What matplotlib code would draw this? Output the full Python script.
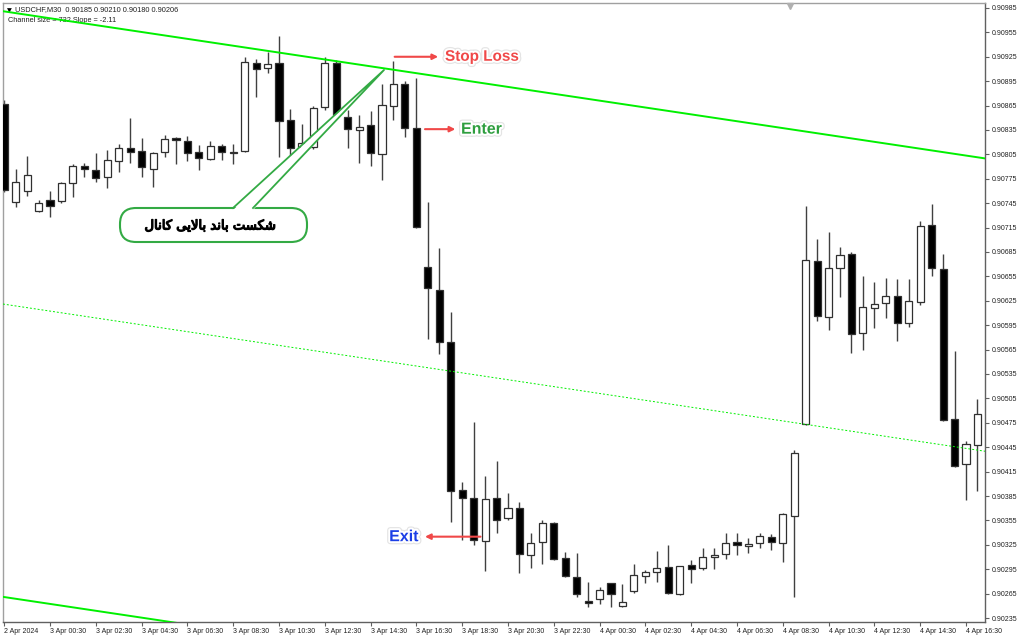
import matplotlib
matplotlib.use("Agg")
import matplotlib.pyplot as plt
import matplotlib.transforms as mtransforms
import matplotlib.patheffects as pe
from matplotlib.patches import FancyBboxPatch, Polygon
import numpy as np

# USDCHF M30, bars from 2 Apr 22:30 to 4 Apr 17:00
opens = [0.90867, 0.90747, 0.90760, 0.90735, 0.90749, 0.90748, 0.90770, 0.90791, 0.90786, 0.90777,
         0.90797, 0.90813, 0.90809, 0.90787, 0.90808, 0.90825, 0.90821, 0.90808, 0.90799, 0.90815,
         0.90808, 0.90809, 0.90917, 0.90911, 0.90917, 0.90847, 0.90814, 0.90814, 0.90863, 0.90917,
         0.90851, 0.90835, 0.90841, 0.90805, 0.90864, 0.90892, 0.90837, 0.90667, 0.90638, 0.90574,
         0.90392, 0.90383, 0.90330, 0.90383, 0.90358, 0.90370, 0.90312, 0.90328, 0.90352, 0.90309,
         0.90285, 0.90256, 0.90258, 0.90278, 0.90250, 0.90268, 0.90287, 0.90292, 0.90298, 0.90265,
         0.90300, 0.90296, 0.90310, 0.90314, 0.90328, 0.90323, 0.90327, 0.90335, 0.90327, 0.90360,
         0.90474, 0.90674, 0.90605, 0.90665, 0.90683, 0.90585, 0.90616, 0.90622, 0.90631, 0.90598,
         0.90624, 0.90718, 0.90664, 0.90480, 0.90424, 0.90448]
highs = [0.90872, 0.90787, 0.90803, 0.90749, 0.90760, 0.90771, 0.90793, 0.90794, 0.90807, 0.90810,
         0.90818, 0.90850, 0.90825, 0.90808, 0.90829, 0.90826, 0.90828, 0.90817, 0.90821, 0.90818,
         0.90818, 0.90925, 0.90922, 0.90931, 0.90951, 0.90861, 0.90842, 0.90864, 0.90925, 0.90921,
         0.90860, 0.90853, 0.90858, 0.90892, 0.90920, 0.90895, 0.90899, 0.90747, 0.90690, 0.90611,
         0.90402, 0.90476, 0.90410, 0.90428, 0.90389, 0.90378, 0.90340, 0.90355, 0.90353, 0.90316,
         0.90315, 0.90279, 0.90273, 0.90278, 0.90277, 0.90301, 0.90294, 0.90317, 0.90325, 0.90299,
         0.90306, 0.90321, 0.90321, 0.90340, 0.90340, 0.90333, 0.90340, 0.90338, 0.90364, 0.90442,
         0.90742, 0.90701, 0.90710, 0.90691, 0.90685, 0.90656, 0.90648, 0.90653, 0.90652, 0.90652,
         0.90723, 0.90744, 0.90683, 0.90563, 0.90453, 0.90504]
lows = [0.90759, 0.90740, 0.90754, 0.90734, 0.90728, 0.90745, 0.90753, 0.90777, 0.90771, 0.90764,
        0.90783, 0.90794, 0.90777, 0.90765, 0.90802, 0.90793, 0.90797, 0.90786, 0.90798, 0.90798,
        0.90793, 0.90808, 0.90876, 0.90905, 0.90802, 0.90804, 0.90807, 0.90812, 0.90860, 0.90851,
        0.90813, 0.90794, 0.90791, 0.90774, 0.90847, 0.90826, 0.90715, 0.90578, 0.90560, 0.90353,
        0.90331, 0.90325, 0.90293, 0.90340, 0.90355, 0.90290, 0.90296, 0.90301, 0.90306, 0.90285,
        0.90261, 0.90249, 0.90252, 0.90249, 0.90249, 0.90266, 0.90278, 0.90279, 0.90265, 0.90263,
        0.90278, 0.90294, 0.90295, 0.90308, 0.90312, 0.90315, 0.90321, 0.90319, 0.90304, 0.90261,
        0.90472, 0.90600, 0.90589, 0.90630, 0.90561, 0.90565, 0.90592, 0.90604, 0.90576, 0.90593,
        0.90620, 0.90656, 0.90477, 0.90421, 0.90380, 0.90391]
closes = [0.90761, 0.90771, 0.90780, 0.90745, 0.90742, 0.90770, 0.90791, 0.90787, 0.90776, 0.90798,
          0.90813, 0.90808, 0.90789, 0.90807, 0.90824, 0.90823, 0.90807, 0.90801, 0.90815, 0.90808,
          0.90807, 0.90919, 0.90910, 0.90916, 0.90846, 0.90813, 0.90819, 0.90862, 0.90917, 0.90853,
          0.90836, 0.90839, 0.90807, 0.90866, 0.90892, 0.90837, 0.90716, 0.90641, 0.90574, 0.90391,
          0.90383, 0.90331, 0.90381, 0.90355, 0.90370, 0.90314, 0.90327, 0.90352, 0.90308, 0.90287,
          0.90265, 0.90253, 0.90269, 0.90265, 0.90255, 0.90288, 0.90292, 0.90296, 0.90266, 0.90299,
          0.90295, 0.90310, 0.90312, 0.90327, 0.90325, 0.90326, 0.90336, 0.90328, 0.90363, 0.90438,
          0.90675, 0.90606, 0.90665, 0.90681, 0.90584, 0.90617, 0.90621, 0.90631, 0.90598, 0.90625,
          0.90717, 0.90665, 0.90478, 0.90422, 0.90449, 0.90486]

x_tick_labels = ["2 Apr 2024", "3 Apr 00:30", "3 Apr 02:30", "3 Apr 04:30", "3 Apr 06:30",
                 "3 Apr 08:30", "3 Apr 10:30", "3 Apr 12:30", "3 Apr 14:30", "3 Apr 16:30",
                 "3 Apr 18:30", "3 Apr 20:30", "3 Apr 22:30", "4 Apr 00:30", "4 Apr 02:30",
                 "4 Apr 04:30", "4 Apr 06:30", "4 Apr 08:30", "4 Apr 10:30", "4 Apr 12:30",
                 "4 Apr 14:30", "4 Apr 16:30"]
y_tick_labels = ["0.90985", "0.90955", "0.90925", "0.90895", "0.90865", "0.90835", "0.90805",
                 "0.90775", "0.90745", "0.90715", "0.90685", "0.90655", "0.90625", "0.90595",
                 "0.90565", "0.90535", "0.90505", "0.90475", "0.90445", "0.90415", "0.90385",
                 "0.90355", "0.90325", "0.90295", "0.90265", "0.90235"]

# regression channel (from the indicator)
chan_top_start = 0.90981
chan_slope = -0.0000211      # per bar
chan_width = 0.00720

header = "USDCHF,M30  0.90185 0.90210 0.90180 0.90206"
chan_label = "Channel size = 732 Slope = -2.11"
callout_text = "شکست باند بالایی کانال"

stop_price = 0.90925
enter_price = 0.90836
exit_price = 0.90335


# --- tiny persian shaper (matplotlib has no arabic shaping) ---
FORMS = {
    'ش': ('\uFEB5', '\uFEB6', '\uFEB7', '\uFEB8'),
    'س': ('\uFEB1', '\uFEB2', '\uFEB3', '\uFEB4'),
    'ت': ('\uFE95', '\uFE96', '\uFE97', '\uFE98'),
    'ب': ('\uFE8F', '\uFE90', '\uFE91', '\uFE92'),
    'ن': ('\uFEE5', '\uFEE6', '\uFEE7', '\uFEE8'),
    'ل': ('\uFEDD', '\uFEDE', '\uFEDF', '\uFEE0'),
    'ک': ('\uFB8E', '\uFB8F', '\uFB90', '\uFB91'),
    'ی': ('\uFBFC', '\uFBFD', '\uFBFE', '\uFBFF'),
    'ا': ('\uFE8D', '\uFE8E', None, None),
    'د': ('\uFEA9', '\uFEAA', None, None),
}

def shape_fa(s):
    units = []
    i = 0
    while i < len(s):
        if s[i] == 'ل' and i + 1 < len(s) and s[i + 1] == 'ا':
            units.append('LA')
            i += 2
        else:
            units.append(s[i])
            i += 1
    dual = lambda u: u in FORMS and FORMS[u][2] is not None
    joinable = lambda u: u in FORMS or u == 'LA'
    res = []
    for k, u in enumerate(units):
        prev = units[k - 1] if k > 0 else None
        nxt = units[k + 1] if k + 1 < len(units) else None
        jp = prev is not None and dual(prev) and joinable(u)
        jn = dual(u) and nxt is not None and joinable(nxt)
        if u == 'LA':
            res.append('\uFEFC' if jp else '\uFEFB')
        elif u in FORMS:
            iso, fin, ini, med = FORMS[u]
            if jp and jn:
                res.append(med)
            elif jp:
                res.append(fin)
            elif jn:
                res.append(ini)
            else:
                res.append(iso)
        else:
            res.append(u)
    return ''.join(reversed(res))


W, H = 1024, 639
fig = plt.figure(figsize=(W / 100, H / 100), dpi=100)
ax = fig.add_axes([3 / W, 1 - 622 / H, 982 / W, 619 / H])
ax.set_facecolor('white')

o = np.array(opens); h = np.array(highs); l = np.array(lows); c = np.array(closes)
idx = np.arange(len(o))
up = c >= o

ax.vlines(idx, l, h, color='#404040', lw=1.0, zorder=2)
body_lo = np.minimum(o, c)
body_h = np.abs(c - o)
ax.bar(idx[up], body_h[up], bottom=body_lo[up], width=0.62, color='white',
       edgecolor='#303030', lw=0.9, zorder=3)
ax.bar(idx[~up], body_h[~up], bottom=body_lo[~up], width=0.62, color='black',
       edgecolor='#303030', lw=0.9, zorder=3)

xl = (-0.105, 85.66)
xs = np.array(xl)
top_line = chan_top_start + chan_slope * (xs - xl[0])
ax.plot(xs, top_line, color='#00f000', lw=1.4, zorder=4)
ax.plot(xs, top_line - chan_width, color='#00f000', lw=1.4, zorder=4)
ax.plot(xs, top_line - chan_width / 2, color='#00f000', lw=0.7, ls=(0, (2, 2)), zorder=4)

ax.set_xlim(*xl)
ax.set_ylim(0.902301, 0.909911)

# axes / ticks, MT4 look
ax.yaxis.tick_right()
ax.set_yticks([float(t) for t in y_tick_labels])
ax.set_yticklabels(y_tick_labels)
ax.set_xticks(np.arange(0, 4 * len(x_tick_labels), 4))
ax.set_xticklabels(x_tick_labels)
for t in ax.get_xticklabels():
    t.set_horizontalalignment('left')
ax.tick_params(axis='y', direction='out', length=3, width=0.8, color='#606060',
               labelsize=5, labelcolor='#202020', pad=2)
ax.tick_params(axis='x', direction='out', length=3, width=0.8, color='#606060',
               labelsize=5, labelcolor='#202020', pad=1.5)
for lab in ax.get_xticklabels() + ax.get_yticklabels():
    lab.set_family('Liberation Sans')
for side in ['left', 'top']:
    ax.spines[side].set_color('#a0a0a0')
for side in ['right', 'bottom']:
    ax.spines[side].set_color('#606060')
for sp in ax.spines.values():
    sp.set_linewidth(1.0)

# header lines
ax.text(0.004, 0.992, '\u25BC', transform=ax.transAxes, fontsize=4.5, va='top', ha='left')
ax.text(0.0125, 0.995, header, transform=ax.transAxes, fontsize=5.3, va='top', ha='left',
        family='Liberation Sans', color='#202020')
ax.text(0.005, 0.978, chan_label, transform=ax.transAxes, fontsize=5.3, va='top', ha='left',
        family='Liberation Sans', color='#202020')
# chart shift marker
ax.plot([68.6], [0.90988], marker='v', ms=4, color='#b0b0b0', clip_on=False, zorder=6)

# annotations
glow = [pe.withStroke(linewidth=4.5, foreground='#e4e4e4'),
        pe.withStroke(linewidth=2.8, foreground='white')]
arrow_kw = dict(arrowstyle='-|>', color='#f04848', lw=1.5, mutation_scale=8,
                shrinkA=0, shrinkB=0)
ax.annotate('', xy=(37.9, stop_price), xytext=(34.1, stop_price), arrowprops=arrow_kw, zorder=6)
ax.text(38.5, stop_price, 'Stop Loss', color='#f04848', fontsize=11, fontweight='bold',
        family='Liberation Sans', va='center', ha='left', path_effects=glow, zorder=6)
ax.annotate('', xy=(39.4, enter_price), xytext=(36.75, enter_price), arrowprops=arrow_kw, zorder=6)
ax.text(39.9, enter_price, 'Enter', color='#2e9e3e', fontsize=11.5, fontweight='bold',
        family='Liberation Sans', va='center', ha='left', path_effects=glow, zorder=6)
ax.annotate('', xy=(36.75, exit_price), xytext=(41.6, exit_price), arrowprops=arrow_kw, zorder=6)
ax.text(36.2, exit_price, 'Exit', color='#1b3ee6', fontsize=11.5, fontweight='bold',
        family='Liberation Sans', va='center', ha='right', path_effects=glow, zorder=6)

# callout box, laid out in screen pixels (y down)
px = mtransforms.Affine2D().scale(1 / W, -1 / H).translate(0, 1) + fig.transFigure
box = FancyBboxPatch((120, 208), 187, 34, boxstyle='round,pad=0,rounding_size=16',
                     fc='white', ec='#33aa44', lw=1.5, transform=px, clip_on=False, zorder=7)
ax.add_patch(box)
wedge = Polygon([(233, 210), (384, 70), (253, 210)], closed=True, fc='white', ec='none',
                transform=px, clip_on=False, zorder=8)
ax.add_patch(wedge)
ax.plot([233, 384, 253], [208, 70, 208], color='#33aa44', lw=1.3, transform=px,
        clip_on=False, zorder=9)
ax.text(211, 226, shape_fa(callout_text), transform=px, ha='center', va='center',
        fontsize=9.5, family='DejaVu Sans', color='black', zorder=10,
        path_effects=[pe.withStroke(linewidth=0.9, foreground='black')])

fig.savefig('out.png', dpi=100, facecolor='white')
